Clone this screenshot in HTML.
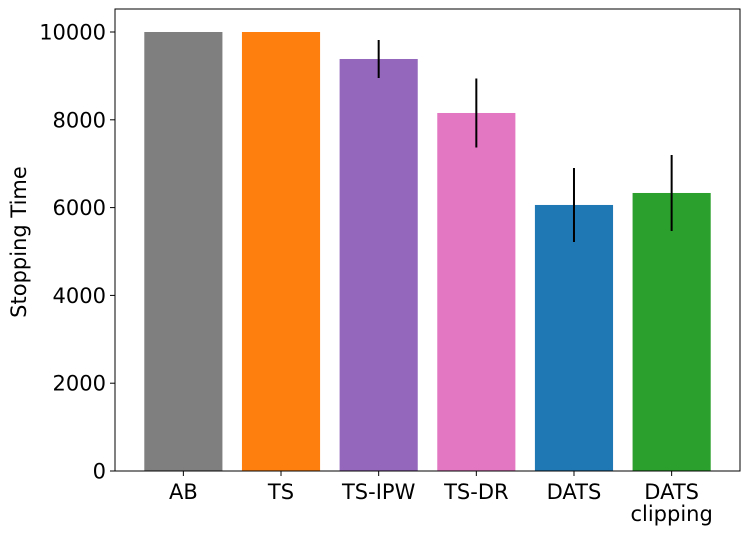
<!DOCTYPE html>
<html><head><meta charset="utf-8"><style>
body{margin:0;background:#fff;}
svg text{font-family:"DejaVu Sans","Liberation Sans",sans-serif;}
</style></head><body>
<svg id="chart" width="746" height="534">
<g id="bars"></g>
<g id="axes"></g>
</svg>
<script>
const categories=["AB","TS","TS-IPW","TS-DR","DATS","DATS\nclipping"];
const values=[10000,10000,9385,8155,6060,6333];
const errors=[0,0,433,785,843,866];
const colors=["#7f7f7f","#ff7f0e","#9467bd","#e377c2","#1f77b4","#2ca02c"];
const yTicks=[0,2000,4000,6000,8000,10000];
const L=115,R=740,T=9,B=471;
const x=v=>L+(v+0.7)*(R-L)/6.4;
const y=v=>B-v*(B-32)/10000;
const ns="http://www.w3.org/2000/svg";
function mk(tag,attrs,parent){const e=document.createElementNS(ns,tag);for(const k in attrs)e.setAttribute(k,attrs[k]);parent.appendChild(e);return e;}
const bars=document.getElementById('bars'),axes=document.getElementById('axes');
const bw=0.8*(R-L)/6.4;
categories.forEach((c,i)=>{
  const r=mk('rect',{x:x(i)-bw/2,y:y(values[i]),width:bw,height:y(0)-y(values[i]),fill:colors[i]},bars);
  
  
  if(errors[i]>0){
    const l=mk('line',{x1:x(i),x2:x(i),y1:y(values[i]-errors[i]),y2:y(values[i]+errors[i]),stroke:'#000','stroke-width':2},bars);
    
    
  }
  mk('line',{x1:x(i),x2:x(i),y1:B,y2:B+5,stroke:'#000','stroke-width':1},axes);
  const t=mk('text',{x:x(i),y:B+28,'text-anchor':'middle','font-size':21},axes);
  
  
  c.split('\n').forEach((s,j)=>{const ts=mk('tspan',{x:x(i),dy:j?22:0},t);ts.textContent=s;});
});
yTicks.forEach(v=>{
  mk('line',{x1:L-5,x2:L,y1:y(v),y2:y(v),stroke:'#000','stroke-width':1},axes);
  const t=mk('text',{x:L-9,y:y(v)+7.5,'text-anchor':'end','font-size':21},axes);
  t.textContent=v;
  
  
});
const f=mk('rect',{x:L,y:T,width:R-L,height:B-T,fill:'none',stroke:'#000','stroke-width':1},axes);


const yt=mk('text',{x:26,y:(T+B)/2+2,'text-anchor':'middle','font-size':21,transform:`rotate(-90 26 ${(T+B)/2+2})`},axes);
yt.textContent='Stopping Time';


</script>
</body></html>
